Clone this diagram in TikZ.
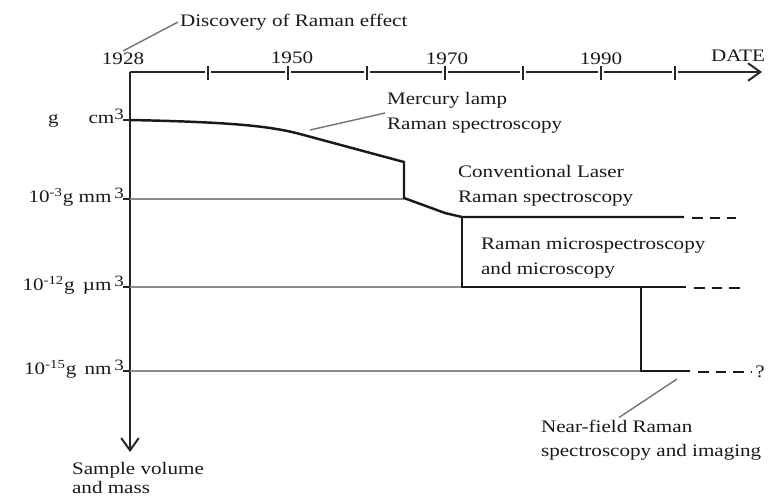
\documentclass[tikz,border=0pt]{standalone}
\usepackage{fontspec}
\setmainfont{Liberation Serif}[FakeStretch=1.2]
\usetikzlibrary{arrows.meta, positioning}
\newcommand{\cube}{\raisebox{0.55ex}{\fontsize{9}{9}\selectfont 3}}

\begin{document}
\begin{tikzpicture}[
  x=0.02cm, y=-0.02cm,
  >={Straight Barb[length=7pt, width=10pt]},
  every node/.style={font=\fontsize{10}{14}\selectfont, inner sep=1pt, text=black!90},
  axis/.style={line width=1.1pt, black!85},
  level/.style={line width=0.9pt, black!45},
  era/.style={line width=1.4pt, black!90},
  tail/.style={line width=1.4pt, black!90, dash pattern=on 6pt off 4pt},
  leader/.style={line width=0.8pt, black!55},
  txt/.style={anchor=west, align=left}
]
\useasboundingbox (0,0) rectangle (768,495);

% axes
\coordinate (o) at (130,72);
\coordinate (tend) at (762,72);
\coordinate (vend) at (130,452);
\draw[axis] (o) -- (205,72);
\foreach \a/\b in {211/285, 291/364, 370/442, 448/520, 526/598, 604/672}
  \draw[axis] (\a,72) -- (\b,72);
\draw[axis,->] (678,72) -- (tend);
\foreach \x in {208,288,367,445,523,601,675}
  \draw[axis] (\x,66) -- (\x,80);
\draw[axis,->] (o) -- (vend);
\foreach \y in {120,199,287,371}
  \draw[axis] (123,\y) -- (137,\y);

% dates
\node (y28) at (123,59) {1928};
\node (y50) at (292,58) {1950};
\node (y70) at (447,59) {1970};
\node (y90) at (601,59) {1990};
\node (date) at (738,56) {DATE};
\node[txt] (disc) at (178,22) {Discovery of Raman effect};
\draw[leader] (y28.north) -- (disc.west);

% sizes
\node[anchor=east] (cm) at (126,118) {g\hspace{1.7em}cm\cube};
\node[anchor=east] (mm) at (126,197) {10\textsuperscript{-3}g mm\,\cube};
\node[anchor=east] (um) at (126,285) {10\textsuperscript{-12}g \,µm\,\cube};
\node[anchor=east] (nm) at (126,369) {10\textsuperscript{-15}g \,nm\,\cube};
\node[txt] (axlab) at (70,478) {Sample volume\\[-3pt]and mass};

% level lines
\draw[level] (130,199) -- (404,199);
\draw[level] (130,287) -- (462,287);
\draw[level] (130,371) -- (641,371);

% techniques
\draw[era] (130,120) .. controls (230,122) and (270,126) .. (300,134)
  -- (404,162) -- (404,198) -- (445,213) -- (462,217) -- (684,217);
\draw[tail] (692,218) -- (736,218);
\draw[era] (462,217) -- (462,287) -- (686,287);
\draw[tail] (694,288) -- (746,288);
\draw[era] (641,287) -- (641,371) -- (690,371);
\draw[tail] (698,372) -- (752,372);
\node (qm) at (760,372) {?};

\node[txt] (merc) at (385,113) {Mercury lamp\\Raman spectroscopy};
\coordinate (mercpt) at (310,130);
\draw[leader] (mercpt) -- (merc.west);
\node[txt] (conv) at (456,186) {Conventional Laser\\Raman spectroscopy};
\node[txt] (micro) at (479,258) {Raman microspectroscopy\\and microscopy};
\node[txt] (near) at (539,440) {Near-field Raman\\spectroscopy and imaging};
\coordinate (nearpt) at (677,379);
\draw[leader] (nearpt) -- ([xshift=1.6cm]near.north west);
\end{tikzpicture}
\end{document}
